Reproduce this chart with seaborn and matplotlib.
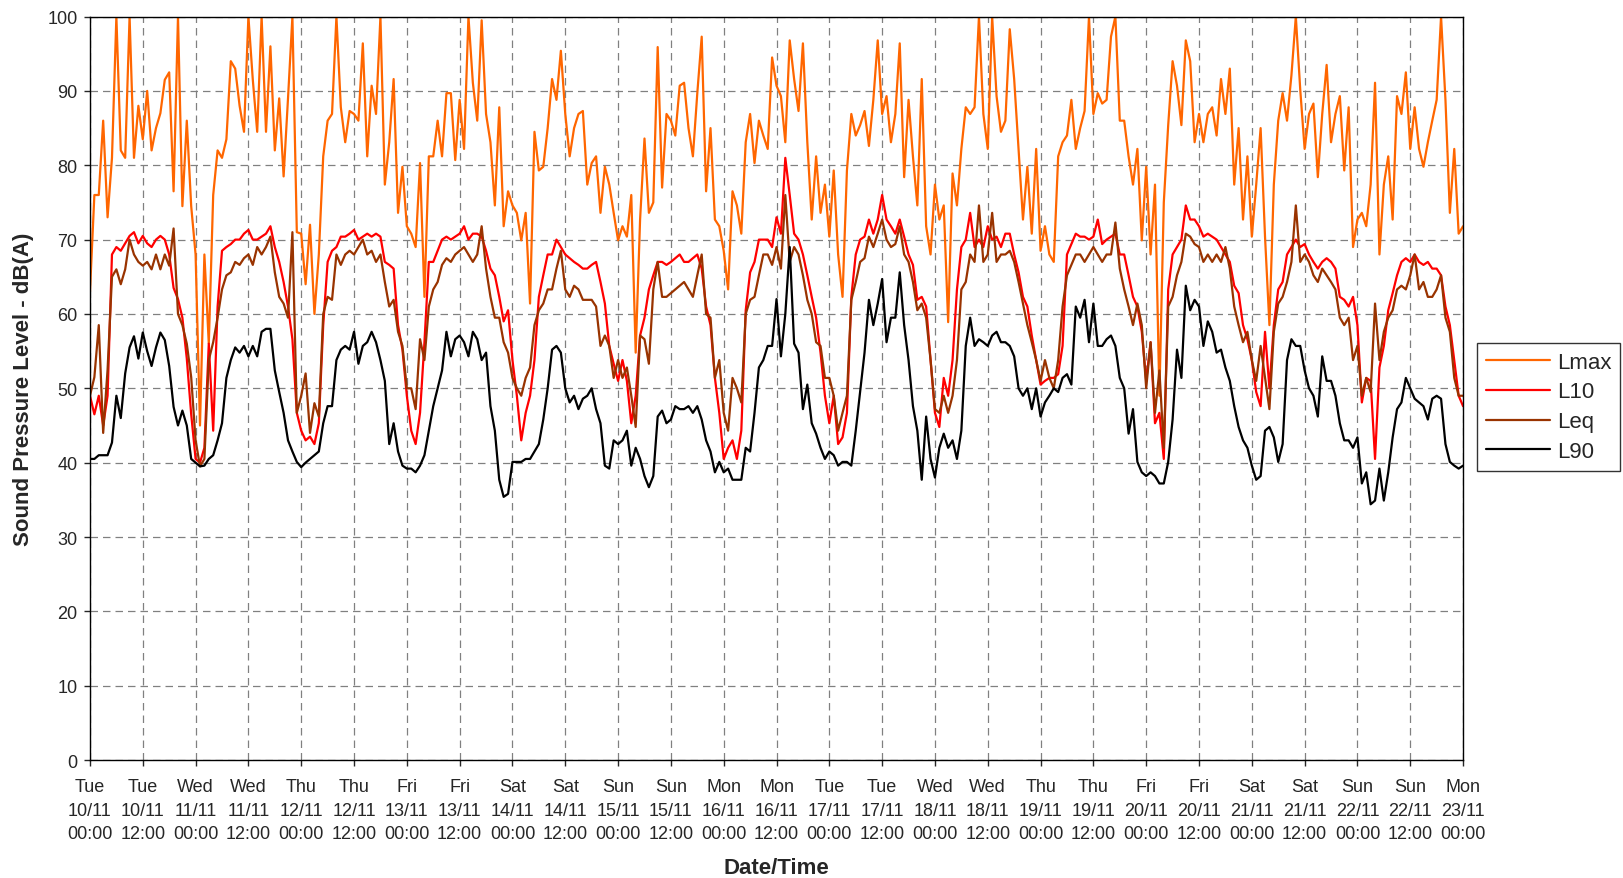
import numpy as np
import pandas as pd
import matplotlib
matplotlib.use("Agg")
import matplotlib.pyplot as plt
from matplotlib.lines import Line2D
import seaborn as sns

# Hourly readings, one row per day (Tue 10/11 ... Sun 22/11), plus Mon 23/11 00:00
Lmax = [
    63, 76, 76, 86, 73, 81, 100, 82, 81, 100, 81, 88, 83.5, 90, 82, 85, 87, 91.5, 92.5, 76.5, 100, 74.5, 86, 74.5,
    68, 45, 68, 56, 76, 82, 81, 83.5, 94, 93, 88, 84.5, 100, 91.5, 84.5, 100, 84.5, 96, 82, 89, 78.5, 89, 100, 71,
    70.8, 64, 72, 60, 68, 81.2, 86, 86.9, 100, 87.8, 83.1, 87.3, 86.9, 86, 96.4, 81.2, 90.7, 86.9, 100, 77.4, 83.1, 91.6, 73.6, 79.8,
    71.8, 70.8, 69, 80.3, 62.3, 81.2, 81.2, 86, 81.2, 89.7, 89.7, 80.7, 88.8, 82.2, 100, 91.1, 86, 99.5, 86.9, 83.1, 74.6, 87.8, 71.8, 76.5,
    74.6, 73.6, 69.9, 73.6, 61.4, 84.5, 79.3, 79.8, 85, 91.6, 88.8, 95.4, 86.9, 81.2, 85, 86.9, 87.3, 77.4, 80.3, 81.2, 73.6, 79.8, 77.4, 73.6,
    69.9, 71.8, 70.4, 76, 54.8, 72.7, 83.6, 73.6, 75, 95.9, 77, 86.9, 86, 84, 90.7, 91.1, 85, 81.2, 89.7, 97.3, 76.5, 85, 72.7, 71.8,
    68.5, 63.3, 76.5, 74.6, 70.8, 83.1, 86.9, 80.3, 86, 84, 82.2, 94.5, 90.7, 89.3, 83.1, 96.8, 91.6, 87.3, 96.4, 83.1, 72.7, 81.2, 73.6, 77.4,
    70.4, 79.3, 68, 62.3, 79.3, 86.9, 84, 85.4, 87.3, 82.6, 88.8, 96.8, 86.9, 89.3, 83.1, 86.9, 96.4, 78.4, 88.8, 81.2, 74.6, 91.6, 71.8, 68,
    77.4, 72.7, 74.6, 58.9, 78.9, 74.6, 82.2, 87.8, 86.9, 87.8, 100, 86.9, 82.2, 100, 89.3, 84.5, 86, 98.3, 91.6, 82.2, 72.7, 79.8, 70.8, 82.2,
    68.5, 71.8, 68, 67, 81.2, 83.1, 84, 88.8, 82.2, 85, 87.3, 100, 86.9, 89.7, 88.3, 88.8, 97.3, 100, 86, 86, 81.2, 77.4, 82.2, 69.9,
    79.8, 68, 77.4, 49, 75, 85.4, 94, 90.7, 85.4, 96.8, 94, 83.1, 86.9, 83.1, 86.9, 87.8, 84, 91.6, 86.9, 93, 77.4, 85, 72.7, 81.2,
    70.4, 77.4, 85, 70.4, 58.5, 77.4, 86, 89.7, 86, 92.1, 100, 90.2, 82.2, 86.9, 88.3, 78.4, 86.9, 93.5, 83.1, 86.9, 89.3, 79.3, 87.8, 69,
    72.7, 73.6, 71.8, 77.4, 91.1, 68, 77.4, 81.2, 72.7, 89.3, 86.9, 92.5, 82.2, 87.8, 82.2, 79.8, 83.1, 86, 88.8, 100, 88.8, 73.6, 82.2, 70.8,
    71.8,
]

L10 = [
    49, 46.5, 49, 45, 49, 68, 69, 68.5, 69.5, 70.5, 71, 69.5, 70.5, 69.5, 69, 70, 70.5, 70, 68, 63.5, 62, 59.5, 54, 46.5,
    40.5, 40, 42, 56, 44.3, 61, 68.5, 69, 69.4, 70, 70, 70.8, 71.3, 70, 70, 70.4, 70.8, 71.8, 69, 67, 64.3, 61, 56.6, 46.7,
    44.3, 43, 43.5, 42.5, 45.3, 58.5, 67, 68.5, 69, 70.4, 70.4, 70.8, 71.3, 70, 70.4, 70.8, 70.4, 70.8, 70.4, 67, 66.6, 66.1, 58.5, 55.2,
    49, 44.3, 42.5, 46.7, 56.2, 67, 67, 68.5, 70, 70.4, 70, 70.4, 70.8, 71.8, 70, 70.8, 70.8, 70.4, 68.5, 66.1, 65.2, 62.3, 59, 60.5,
    53.8, 49, 43, 46.7, 49, 53.8, 62.3, 65.2, 68, 68, 70, 69, 68, 67.5, 67, 66.6, 66.1, 66.1, 66.6, 67, 64.3, 61.4, 55.7, 53.3,
    51, 53.8, 51, 45.3, 49, 57.1, 59.5, 63.3, 65.2, 67, 67, 66.6, 67, 67.5, 68, 67, 67, 67.5, 68, 66.1, 61, 58.5, 51.4, 46.7,
    40.5, 42, 43, 40.5, 44.3, 60.5, 65.6, 67, 70, 70, 70, 69, 73, 70.8, 81, 76, 70.8, 70, 68, 65.2, 62.3, 59.5, 54.8, 49,
    45.3, 49, 42.5, 43.4, 46.7, 62.3, 68, 70, 70.4, 72.7, 70.8, 72.7, 76, 72.7, 71.8, 70.8, 72.7, 70.4, 68, 66.6, 61.9, 62.3, 61, 53.8,
    46.7, 44.8, 51.4, 49, 53.8, 63.3, 69, 70, 73.6, 69, 70, 69, 71.8, 70, 70.4, 69, 70.8, 70.8, 68, 65.6, 62.3, 61, 57.1, 53.8,
    50.5, 51, 51.4, 51.4, 51.9, 55.7, 68, 69.4, 70.8, 70.4, 70.4, 70, 70.4, 72.7, 69.4, 70, 70.4, 70.8, 68, 68, 65.2, 62.3, 61, 57.6,
    51, 56.2, 45.3, 46.7, 40.5, 63.3, 68, 69, 70, 74.6, 72.7, 72.7, 71.8, 70.4, 70.8, 70.4, 70, 69, 68, 67, 63.8, 62.8, 58.5, 56.6,
    53.8, 49.5, 47.6, 57.6, 50, 58.5, 63.3, 64.3, 68, 69, 70, 69, 69.4, 68, 67, 66.1, 67, 67.5, 67, 66.1, 62.3, 61.9, 61, 62.3,
    58.5, 48.1, 51.4, 51, 40.5, 52.8, 55.7, 60.5, 62.8, 65.2, 67, 67.5, 67, 68, 67, 66.6, 67, 66.1, 66.1, 65.2, 61, 58.5, 53.8, 49,
    47.6,
]

Leq = [
    49, 51.5, 58.5, 44, 52.5, 65, 66, 64, 66, 70, 68, 67, 66.5, 67, 66, 68, 66, 68, 66.5, 71.5, 60, 58.5, 56, 51.5,
    43, 39.5, 40.5, 53.8, 56.2, 59.5, 63.3, 65.2, 65.6, 67, 66.6, 67.5, 68, 66.6, 69, 68, 69, 70.4, 65.6, 62.3, 61.4, 59.5, 71, 46.7,
    49, 52, 44, 48, 46.2, 60, 62.3, 61.9, 68, 66.6, 68, 68.5, 68, 69, 70, 68, 68.5, 67, 68, 64.3, 61, 61.9, 57.6, 55.7,
    50, 50, 47.2, 56.6, 53.8, 61, 63.3, 64.3, 66.6, 67.5, 67, 68, 68.5, 69, 68, 67, 68, 71.8, 66.1, 62.3, 59.5, 59.5, 56.2, 54.8,
    51.4, 50, 49, 51.4, 52.8, 58.5, 60.5, 61.4, 63.3, 63.3, 66.1, 68.5, 63.3, 62.3, 63.8, 63.3, 61.9, 61.9, 61.9, 61, 55.7, 57.1, 55.7, 51.4,
    53.8, 51.4, 52.8, 49, 44.8, 57.1, 56.6, 53.3, 63.3, 67, 62.3, 62.3, 62.8, 63.3, 63.8, 64.3, 63.3, 62.3, 65.2, 68, 60, 59.5, 51.4, 53.8,
    46.7, 44.3, 51.4, 50, 48.1, 60, 61.9, 62.3, 65.2, 68, 68, 66.6, 69, 66.1, 76, 67, 69, 68, 65.2, 61.9, 60, 56.2, 55.7, 51.4,
    51.4, 49, 44.3, 46.7, 49, 61.9, 64.3, 67, 67.5, 70.4, 69, 70.8, 72.7, 70, 69, 69.4, 71.8, 68, 67, 64.3, 60.5, 61.4, 59.5, 53.8,
    47.2, 46.7, 49, 46.7, 49, 53.8, 63.3, 64.3, 68, 67, 74.6, 67, 68, 73.6, 67, 68, 68, 68.5, 67, 64.3, 61.4, 58.5, 56.2, 53.8,
    51, 53.8, 51.4, 50, 53.8, 61, 65.2, 66.6, 68, 68, 67, 68, 69, 68, 67, 68, 68, 72.3, 66.1, 63.3, 61, 58.5, 61.4, 58.5,
    50, 56.2, 46.7, 52.4, 42, 61, 62.3, 65.2, 67, 70.8, 70.4, 69.4, 69, 67, 68, 67, 68, 67, 69, 66.1, 61, 58.5, 56.2, 57.6,
    53.8, 51, 55.7, 51.4, 47.2, 57.6, 61.4, 62.3, 64.3, 67, 74.6, 67, 68, 67, 65.2, 64.3, 66.1, 65.2, 64.3, 63.3, 59.5, 58.5, 59.5, 53.8,
    55.7, 49, 51.4, 49.5, 61.4, 53.8, 57.6, 59.5, 60.5, 63.3, 63.8, 63.3, 65.2, 68, 63.3, 64.3, 62.3, 62.3, 63.3, 65.2, 59.5, 57.6, 51.4, 49,
    49,
]

L90 = [
    40.5, 40.5, 41, 41, 41, 42.7, 49, 46, 52, 55.5, 57, 54, 57.5, 55, 53, 55.5, 57.5, 56.5, 53, 47.5, 45, 47, 45, 40.5,
    40, 39.5, 39.6, 40.5, 41, 43, 45.3, 51.4, 53.8, 55.5, 54.8, 55.7, 54.3, 55.7, 54.3, 57.6, 58, 58, 52.4, 49.5, 46.7, 43, 41.5, 40.1,
    39.4, 40, 40.5, 41, 41.5, 45.3, 47.6, 47.6, 53.8, 55.2, 55.7, 55.2, 57.6, 53.3, 55.7, 56.2, 57.6, 56.2, 53.8, 51, 42.5, 45.3, 41.5, 39.6,
    39.2, 39.2, 38.7, 39.6, 41, 44.3, 47.6, 50, 52.4, 57.6, 54.3, 56.6, 57.1, 56.2, 54.3, 57.6, 56.6, 53.8, 54.8, 47.6, 44.3, 37.7, 35.4, 35.8,
    40.1, 40.1, 40.1, 40.5, 40.5, 41.5, 42.5, 45.8, 50, 55.2, 55.7, 54.8, 50, 48.1, 49, 47.2, 48.6, 49, 50, 47.2, 45.3, 39.6, 39.2, 43,
    42.5, 43, 44.3, 39.6, 42, 40.5, 38.2, 36.7, 38.2, 46.2, 47, 45.3, 45.8, 47.6, 47.2, 47.2, 47.6, 46.7, 47.6, 45.8, 43, 41.5, 38.7, 40.1,
    38.7, 39.2, 37.7, 37.7, 37.7, 42, 41.5, 46.7, 52.8, 53.8, 55.7, 55.7, 62, 54.3, 60, 69, 56, 54.8, 47.2, 50.5, 45.3, 43.9, 42, 40.5,
    41.5, 41, 39.6, 40.1, 40.1, 39.6, 44.3, 49.5, 54.8, 61.9, 58.5, 61.4, 64.7, 56.2, 59.5, 59.5, 65.6, 58.5, 53.8, 47.6, 44.3, 37.7, 46.2, 40.5,
    38, 42, 43.9, 42, 43, 40.5, 44.3, 55.7, 59.5, 55.7, 56.6, 56.2, 55.7, 57.1, 57.6, 56.2, 56.2, 55.7, 54.3, 50, 49, 50, 47.2, 50,
    46.2, 48.1, 49, 50, 49.5, 51.4, 51.9, 50.5, 61, 59.5, 61.9, 56.2, 61.4, 55.7, 55.7, 56.6, 57.1, 55.7, 51.4, 50, 43.9, 47.2, 40.1, 38.7,
    38.2, 38.7, 38.2, 37.2, 37.2, 40.1, 45.8, 55.2, 51.4, 63.8, 60.5, 61.9, 61, 55.7, 59, 57.6, 54.8, 55.2, 52.8, 51, 47.6, 44.8, 43, 42,
    39.6, 37.7, 38.2, 44.3, 44.8, 43.4, 40.1, 42.5, 53.8, 56.6, 55.7, 55.7, 52.4, 50, 49, 46.2, 54.3, 51, 51, 49, 45.3, 43, 43, 42,
    43.4, 37.2, 38.7, 34.4, 34.9, 39.2, 34.9, 38.7, 43.4, 47.2, 48.1, 51.4, 50, 48.6, 48.1, 47.6, 45.8, 48.6, 49, 48.6, 42.5, 40.1, 39.6, 39.2,
    39.6,
]

series_names = ["Lmax", "L10", "Leq", "L90"]
series_colors = ["#FF6600", "#FF0000", "#993300", "#000000"]
start_time = "2009-11-10 00:00"

n = len(L90)
times = pd.date_range(start_time, periods=n, freq="h")
hours = np.arange(n)

df = pd.DataFrame({
    "Hour": np.tile(hours, 4),
    "Level": np.concatenate([Lmax, L10, Leq, L90]),
    "Series": np.repeat(series_names, n),
})

sns.set_theme(style="white")
plt.rcParams["font.family"] = ["Liberation Sans", "DejaVu Sans"]

fig = plt.figure(figsize=(16.24, 8.79), dpi=100)
ax = fig.add_axes([0.0554, 0.1342, 0.8455, 0.8458])

sns.lineplot(data=df, x="Hour", y="Level", hue="Series", hue_order=series_names,
             palette=series_colors, linewidth=1.6, estimator=None, ax=ax, legend=False)

ax.set_xlim(0, n - 1)
ax.set_ylim(0, 100)
ax.set_yticks(range(0, 101, 10))
tick_pos = list(range(0, n, 12))
tick_labels = [times[t].strftime("%a\n%d/%m\n%H:%M") for t in tick_pos]
ax.set_xticks(tick_pos)
ax.set_xticklabels(tick_labels, fontsize=13, linespacing=1.5)
ax.tick_params(axis="y", labelsize=13, direction="out", length=4, width=1, pad=5, left=True)
ax.tick_params(axis="x", direction="out", length=4, width=1, pad=9, bottom=True)

ax.grid(True, color="#808080", linestyle=(0, (6, 4)), linewidth=0.9)
ax.set_axisbelow(True)
for sp in ax.spines.values():
    sp.set_color("black")
    sp.set_linewidth(1.0)
ax.set_xlabel("")
ax.set_ylabel("")

fig.text(0.478, 0.0125, "Date/Time", ha="center", va="center", fontsize=16, fontweight="bold")
fig.text(0.0142, 0.557, "Sound Pressure Level - dB(A)", ha="center", va="center",
         rotation=90, fontsize=16, fontweight="bold")

handles = [Line2D([0], [0], color=c, linewidth=1.6) for c in series_colors]
leg = fig.legend(handles, series_names, loc="center left", bbox_to_anchor=(0.9095, 0.536),
                 fontsize=16, frameon=True, fancybox=False, edgecolor="black",
                 handlelength=2.9, handletextpad=0.3, borderpad=0.4, labelspacing=0.4,
                 borderaxespad=0.0)
leg.get_frame().set_linewidth(1.0)

fig.savefig("out.png", dpi=100)
